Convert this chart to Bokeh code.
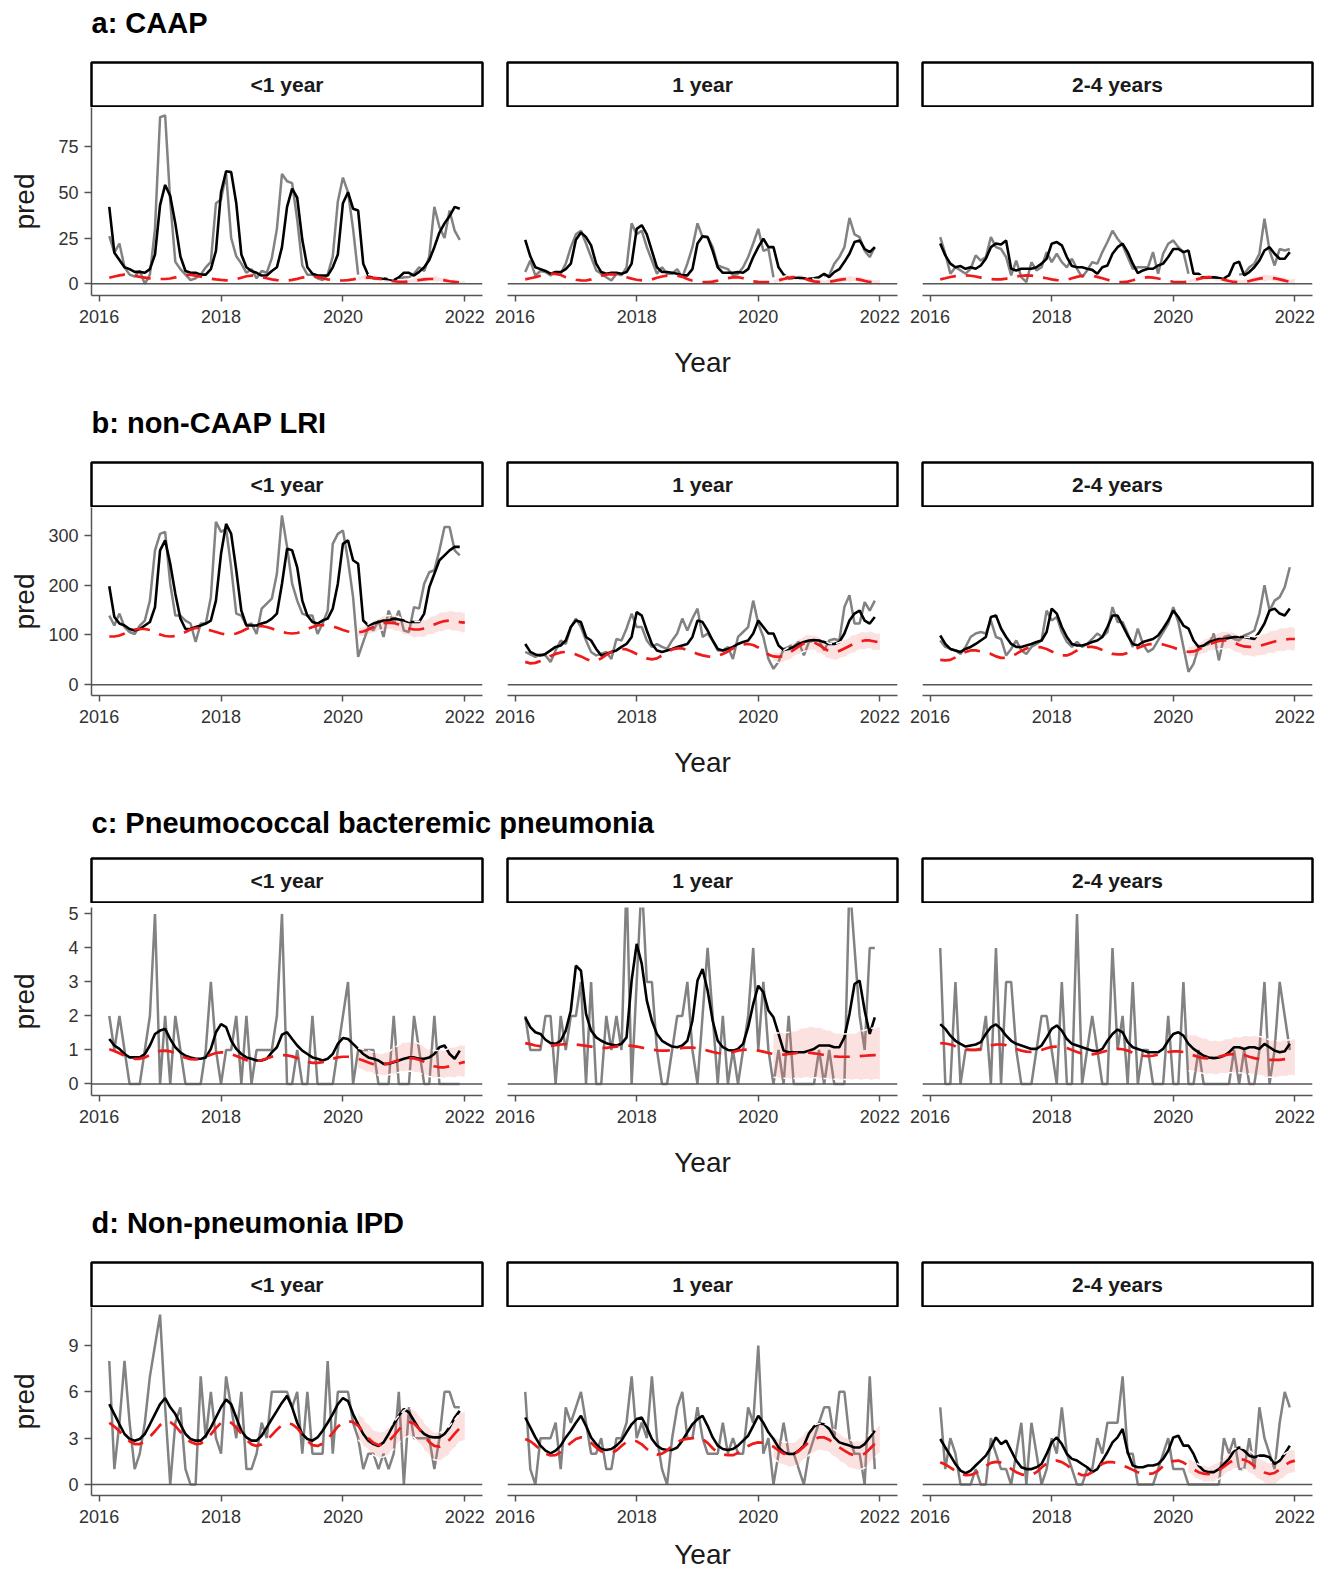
from bokeh.plotting import figure
from bokeh.models import Range1d, Label, Span, FixedTicker
from bokeh.layouts import column, row
from bokeh.embed import file_html
from bokeh.resources import INLINE

NAN = float("nan")
FONT = "Liberation Sans"

# monthly time axis: Mar 2016 ... Jan 2022 (decimal years)
MONTHS = [2016 + (2 + i) / 12 for i in range(71)]
RIB_START = 49  # Apr 2020

ROW_TITLES = ["a: CAAP", "b: non-CAAP LRI", "c: Pneumococcal bacteremic pneumonia", "d: Non-pneumonia IPD"]
AGE_GROUPS = ["<1 year", "1 year", "2-4 years"]
X_TICKS = [2016, 2018, 2020, 2022]
Y_TICKS = [[0, 25, 50, 75], [0, 100, 200, 300], [0, 1, 2, 3, 4, 5], [0, 3, 6, 9]]
Y_RANGES = [(-6.4, 96.3), (-21.5, 356), (-0.34, 5.19), (-0.71, 11.46)]

# ---------------- a: CAAP ----------------
caap_lt1_obs = [26, 17, 22, 9, 5, 4, 7, 0, 5, 30,
                91, 92, 45, 12, 8, 5, 2, 3, 5, 9, 12, 44,
                46, 60, 25, 15, 11, 6, 8, 3, 7, 6, 14, 30,
                60, 56, 55, 35, 10, 5, 5, 3, 2, 5, 15, 45,
                58, 50, 30, 5, NAN, NAN, NAN, NAN, NAN, NAN, NAN, 2.7,
                3.6, 3.6, 5.5, 9, 7, 15, 42, 31, 25, 40, 29, 24]
caap_lt1_fit = [42, 17, 13, 9, 8, 6.5, 6.5, 6, 8, 16,
                43, 54, 48, 33, 15, 7, 6, 6, 5, 5, 8, 18,
                50, 61.5, 61, 44, 16, 9, 7, 6, 4.5, 4.5, 7, 9,
                20, 42, 52, 47, 24, 9, 5.5, 4.5, 4.5, 4.5, 9, 16,
                44, 50, 41, 40, 11, 4.5, 3, 3, 2.8, 2.5, 2, 3.5,
                6, 6, 4.5, 6.5, 9, 13, 20, 28, 33, 37, 42, 41]
caap_lt1_cf = [3.3, 4.0, 4.6, 5.0, 4.8, 4.3, 3.8, 3.4, 3.0, 2.8,
               2.6, 2.6, 2.9, 3.5, 4.2, 4.8, 4.9, 4.5, 3.9, 3.3, 2.8, 2.4,
               2.1, 1.9, 2.0, 2.5, 3.3, 4.1, 4.5, 4.3, 3.7, 3.0, 2.4, 2.0,
               1.8, 1.8, 2.1, 2.7, 3.4, 3.9, 4.0, 3.6, 3.0, 2.4, 2.0, 1.8,
               1.8, 2.0, 2.4, 2.9, 3.3, 3.4, 3.2, 2.8, 2.3, 1.8, 1.4, 1.1,
               1.0, 1.2, 1.6, 2.0, 2.4, 2.6, 2.6, 2.3, 1.9, 1.4, 1.0, 0.7, 0.5]
caap_lt1_lo = [1.6, 1.9, 2.0, 1.8, 1.5, 1.1, 0.7, 0.4, 0.2, 0.1, 0.2, 0.5, 0.8, 1.1, 1.2, 1.2, 1.0, 0.7, 0.3, 0.1, -0.1, -0.3]
caap_lt1_hi = [4.3, 4.8, 5.0, 4.8, 4.3, 3.7, 3.1, 2.6, 2.3, 2.2, 2.5, 3.0, 3.5, 3.9, 4.2, 4.2, 3.8, 3.3, 2.7, 2.2, 1.8, 1.5]

caap_1y_obs = [6.4, 12.7, 4.5, 7, 6.4, 4.6, 6.4, 5.5, 11, 20,
               27, 29, 22, 14.6, 7.3, 5.5, 3.6, 1.8, 5.5, 4.6, 9, 33,
               27, 29, 20, 12.7, 5.5, 9, 5.5, 5.5, 8, 3.6, 11, 20,
               33, 25.5, 25.5, 20, 10, 9, 8, 4.6, 5.5, 9, 14.6, 22,
               30, 18, 19, 3.6, NAN, NAN, NAN, NAN, NAN, NAN, NAN, NAN,
               NAN, 4.5, 4.6, 11, 14.6, 20, 36, 27, 25.5, 18, 14.6, 20]
caap_1y_fit = [24, 15, 9, 8, 7, 5.5, 6.4, 6.4, 8, 11,
               24, 28, 25.5, 21, 11, 6.4, 5.5, 6, 6, 5.5, 6.4, 11,
               30, 32, 27, 18, 9, 6.4, 6.4, 6, 5.5, 4.6, 4.6, 8,
               22, 26, 25.5, 18, 9, 6, 6, 6, 6.4, 6, 8, 14.6,
               20, 24.6, 20, 20, 9, 5, 3, 3.2, 3.3, 3, 2.7, 3,
               3.6, 5.5, 3.6, 6.4, 8, 12, 16.4, 22.8, 23.7, 19, 17.3, 20]
caap_1y_cf = [2.4, 3.0, 3.6, 4.4, 5.1, 5.5, 5.4, 4.8, 3.6, 2.8, 2.2, 1.9,
              1.8, 2.4, 3.4, 4.4, 5.0, 5.2, 5.0, 4.4, 3.6, 2.8, 2.2, 1.9,
              1.8, 2.4, 3.3, 4.0, 4.5, 4.7, 4.5, 3.8, 2.6, 1.7, 1.1, 0.9,
              0.9, 1.2, 1.7, 2.4, 3.1, 3.5, 3.6, 3.0, 2.0, 1.3, 1.0, 0.9,
              0.9, 1.2, 1.9, 2.6, 3.2, 3.6, 3.5, 3.0, 2.0, 1.3, 1.0, 0.9,
              1.1, 1.6, 2.1, 2.5, 2.7, 2.7, 2.3, 1.6, 1.0, 0.8, 0.7]
caap_1y_lo = [0.0, 0.6, 1.2, 1.7, 2.1, 2.0, 1.5, 0.6, 0.0, -0.3, -0.4, -0.3, 0.2, 0.6, 0.9, 1.1, 1.1, 0.7, 0.1, -0.5, -0.7, -0.8]
caap_1y_hi = [2.4, 3.2, 4.0, 4.7, 5.1, 5.0, 4.5, 3.4, 2.6, 2.3, 2.2, 2.5, 3.0, 3.6, 4.1, 4.3, 4.3, 3.9, 3.1, 2.5, 2.3, 2.2]

caap_2to4_obs = [25.5, 16.4, 5.5, 9, 7.3, 5.5, 8.2, 15.5, 12.7, 14.6,
                 25.5, 20, 19, 14.6, 4.6, 12.7, 3.6, 0.9, 11.8, 7.3, 9, 17.3,
                 11.8, 16.4, 11.8, 9, 13.7, 8.2, 3.6, 7.3, 11.8, 11, 17.3, 22.8,
                 29, 24.6, 21, 14.6, 8.2, 9, 9, 9, 17.3, 5.5, 16.4, 21.9,
                 23.7, 20, 17.3, 5.5, NAN, NAN, NAN, NAN, NAN, NAN, NAN, NAN,
                 NAN, 5, 5.5, 9, 11, 16.4, 35.5, 18.2, 10, 19, 18.2, 19]
caap_2to4_fit = [22, 15.5, 11, 9, 9.7, 8.2, 9, 8.2, 10, 13.7,
                 20, 22, 21.5, 23.7, 8.2, 7.3, 8.2, 8.2, 8.2, 9, 11, 13.7,
                 21.9, 22.8, 21, 14.6, 9.7, 9, 9, 8.2, 7.6, 5.5, 9, 10,
                 16.4, 20, 21.9, 17.3, 11, 5.8, 7.3, 8.2, 8.2, 10, 11, 14.6,
                 19, 19, 17.3, 18.2, 5.5, 5.5, 3.3, 3.5, 3.5, 3.3, 3, 4.6,
                 11, 12, 4.6, 6.4, 9, 12.7, 18.2, 20, 16.4, 13.7, 13.7, 17.3]
caap_2to4_cf = [2.4, 3.0, 3.7, 4.2, 4.5, 4.6, 4.4, 4.0, 3.4, 3.0, 2.6, 2.4,
                2.4, 2.8, 3.4, 4.0, 4.4, 4.6, 4.5, 4.1, 3.5, 3.0, 2.4, 2.0,
                1.8, 2.2, 3.0, 3.8, 4.4, 4.6, 4.4, 3.8, 3.0, 2.2, 1.4, 1.0,
                0.9, 1.2, 1.9, 2.7, 3.3, 3.6, 3.4, 2.9, 2.3, 1.6, 1.1, 0.9,
                0.9, 1.3, 2.0, 2.7, 3.3, 3.6, 3.4, 2.9, 2.2, 1.5, 1.0, 0.9,
                1.0, 1.5, 2.2, 2.8, 3.2, 3.3, 3.0, 2.4, 1.7, 1.1, 0.9]
caap_2to4_lo = [0.1, 0.7, 1.3, 1.8, 2.1, 1.9, 1.4, 0.7, 0.0, -0.4, -0.5, -0.5, 0.0, 0.6, 1.1, 1.4, 1.5, 1.2, 0.6, -0.1, -0.7, -0.9]
caap_2to4_hi = [2.5, 3.3, 4.1, 4.8, 5.1, 4.9, 4.4, 3.7, 3.0, 2.5, 2.4, 2.5, 3.0, 3.8, 4.5, 5.0, 5.1, 4.8, 4.2, 3.5, 2.9, 2.7]

# ---------------- b: non-CAAP LRI ----------------
lri_lt1_obs = [139, 119, 143, 116, 106, 102, 119, 129, 169, 270,
               303, 307, 203, 139, 139, 129, 123, 86, 123, 123, 176, 327,
               307, 313, 236, 143, 139, 119, 123, 102, 153, 163, 173, 223,
               340, 277, 203, 169, 143, 139, 139, 102, 123, 149, 283, 303,
               310, 250, 176, 56, 86, 116, 109, 129, 96, 149, 123, 149,
               109, 106, 156, 153, 203, 226, 230, 270, 317, 317, 270, 260]
lri_lt1_fit = [198, 136, 123, 119, 112, 109, 112, 119, 126, 156,
               270, 290, 243, 183, 133, 112, 112, 116, 119, 123, 129, 169,
               263, 323, 303, 230, 149, 119, 119, 119, 123, 126, 133, 143,
               203, 273, 270, 236, 169, 139, 126, 123, 129, 133, 153, 203,
               283, 290, 250, 243, 129, 119, 123, 126, 129, 129, 133, 131,
               129, 126, 126, 126, 143, 196, 223, 250, 260, 270, 277, 277]
lri_lt1_cf = [97, 97, 99, 103, 108, 111, 112, 112, 110, 106,
              101, 98, 97, 98, 101, 106, 111, 114, 114, 112, 109, 106,
              103, 101, 101, 103, 107, 112, 116, 118, 118, 116, 113, 109,
              106, 104, 103, 104, 107, 112, 116, 119, 120, 119, 117, 114,
              110, 107, 105, 105, 107, 111, 116, 121, 124, 125, 124, 121,
              117, 113, 111, 111, 113, 117, 121, 125, 128, 129, 128, 126, 125]
lri_lt1_lo = [96, 97, 100, 104, 108, 111, 111, 110, 106, 102, 98, 95, 95, 96, 100, 103, 106, 109, 110, 108, 106, 105]
lri_lt1_hi = [114, 117, 122, 128, 134, 138, 139, 139, 136, 132, 128, 127, 127, 130, 135, 139, 144, 147, 148, 148, 146, 145]

lri_1y_obs = [66, 61, 56, 61, 59, 46, 69, 89, 82, 116,
              133, 116, 89, 66, 59, 62, 66, 52, 92, 89, 113, 143,
              116, 116, 89, 76, 82, 76, 72, 89, 103, 133, 109, 133,
              153, 96, 103, 89, 69, 69, 76, 52, 96, 106, 116, 169,
              123, 96, 52, 32, 46, 72, 76, 82, 86, 59, 86, 89,
              89, 69, 89, 92, 89, 156, 180, 123, 123, 166, 149, 169]
lri_1y_fit = [82, 66, 61, 59, 62, 69, 76, 79, 89, 116,
              129, 126, 96, 89, 72, 59, 62, 66, 69, 76, 82, 96,
              146, 139, 109, 82, 69, 66, 69, 72, 76, 79, 82, 96,
              129, 126, 109, 89, 72, 69, 72, 76, 82, 86, 89, 103,
              129, 116, 103, 103, 79, 70, 72, 76, 82, 86, 89, 90,
              89, 86, 82, 82, 86, 103, 129, 143, 149, 129, 123, 136]
lri_1y_cf = [46, 43, 44, 48, 53, 58, 62, 65, 66, 64,
             61, 57, 52, 48, 48, 53, 60, 66, 70, 72, 71, 67,
             62, 57, 53, 51, 53, 59, 66, 71, 73, 73, 70, 66,
             62, 59, 57, 56, 58, 62, 67, 73, 78, 81, 82, 80,
             75, 68, 61, 57, 56, 58, 63, 70, 77, 83, 86, 85,
             80, 73, 67, 66, 68, 73, 78, 83, 87, 89, 89, 87, 85]
lri_1y_lo = [47, 45, 46, 50, 56, 62, 67, 70, 69, 64, 58, 52, 50, 52, 56, 61, 66, 70, 72, 72, 70, 68]
lri_1y_hi = [66, 66, 69, 75, 83, 91, 98, 101, 100, 96, 89, 83, 82, 85, 90, 96, 101, 105, 107, 107, 105, 103]

lri_2to4_obs = [89, 76, 72, 69, 62, 76, 96, 103, 106, 103,
                129, 96, 92, 59, 72, 89, 69, 62, 76, 82, 89, 149,
                129, 136, 106, 86, 76, 86, 76, 82, 92, 103, 96, 106,
                156, 126, 126, 103, 76, 113, 82, 66, 72, 89, 106, 123,
                156, 126, 76, 26, 42, 76, 79, 82, 103, 49, 96, 99,
                92, 89, 99, 103, 109, 143, 200, 149, 169, 176, 196, 236]
lri_2to4_fit = [99, 82, 72, 69, 66, 72, 76, 82, 89, 96,
                136, 139, 113, 96, 82, 76, 76, 79, 82, 86, 89, 106,
                153, 143, 116, 96, 82, 79, 79, 82, 86, 89, 96, 116,
                139, 139, 119, 99, 82, 79, 86, 89, 92, 99, 113, 129,
                149, 136, 119, 113, 89, 76, 79, 86, 89, 92, 92, 94,
                96, 96, 96, 94, 92, 106, 123, 149, 153, 143, 139, 153]
lri_2to4_cf = [50, 49, 50, 55, 61, 66, 69, 69, 67, 65,
               62, 57, 54, 54, 57, 62, 68, 73, 76, 76, 75, 72,
               67, 62, 59, 59, 63, 69, 74, 76, 76, 74, 70, 66,
               62, 61, 61, 64, 69, 74, 78, 81, 82, 82, 81, 78,
               75, 71, 68, 66, 67, 71, 76, 81, 85, 88, 89, 89,
               85, 80, 77, 76, 76, 78, 81, 84, 87, 89, 91, 92, 92]
lri_2to4_lo = [56, 56, 59, 63, 67, 70, 72, 73, 72, 68, 63, 59, 57, 57, 58, 60, 63, 65, 67, 68, 69, 69]
lri_2to4_hi = [77, 79, 84, 90, 96, 101, 105, 107, 107, 104, 99, 96, 95, 96, 99, 103, 107, 110, 113, 115, 116, 116]

# ---------------- c: Pneumococcal bacteremic pneumonia ----------------
pbp_lt1_obs = [2, 1, 2, 1, 0, 0, 0, 1, 2, 5,
               0, 2, 0, 2, 1, 0, 0, 0, 0, 1, 3, 1,
               0, 1, 1, 2, 0, 2, 0, 1, 1, 1, 1, 2,
               5, 0, 0, 1, 0, 0, 2, 0, 0, 0, 0, 1,
               2, 3, 0, 1, 1, 1, 1, 0, 0, 0, 2, 0,
               0, 0, 2, 1, 0, 0, 2, 0, 0, 0, 0, 0]
pbp_lt1_fit = [1.32, 1.13, 1.03, 0.88, 0.78, 0.78, 0.78, 0.88, 1.13, 1.47,
               1.57, 1.62, 1.32, 1.08, 0.93, 0.83, 0.78, 0.74, 0.74, 0.78, 1.03, 1.52,
               1.76, 1.67, 1.27, 1.03, 0.88, 0.78, 0.74, 0.69, 0.69, 0.74, 0.93, 1.08,
               1.45, 1.52, 1.32, 1.13, 0.98, 0.88, 0.78, 0.74, 0.69, 0.74, 0.88, 1.18,
               1.35, 1.32, 1.18, 1.03, 0.88, 0.78, 0.74, 0.69, 0.59, 0.59, 0.64, 0.69,
               0.74, 0.78, 0.78, 0.74, 0.74, 0.78, 0.88, 1.08, 1.13, 0.88, 0.74, 0.98]
pbp_lt1_cf = [1.02, 0.97, 0.9, 0.83, 0.77, 0.74, 0.74, 0.78, 0.85, 0.92,
              0.97, 0.98, 0.96, 0.9, 0.83, 0.77, 0.73, 0.72, 0.74, 0.8, 0.86, 0.91,
              0.93, 0.92, 0.88, 0.82, 0.76, 0.7, 0.68, 0.68, 0.7, 0.75, 0.8, 0.84,
              0.85, 0.84, 0.81, 0.76, 0.7, 0.65, 0.62, 0.62, 0.64, 0.69, 0.74, 0.78,
              0.8, 0.8, 0.78, 0.74, 0.69, 0.63, 0.58, 0.56, 0.57, 0.6, 0.65, 0.7,
              0.74, 0.76, 0.75, 0.71, 0.65, 0.58, 0.52, 0.49, 0.49, 0.52, 0.56, 0.61, 0.65]
pbp_lt1_lo = [0.45, 0.4, 0.35, 0.3, 0.26, 0.25, 0.27, 0.3, 0.34, 0.37, 0.38, 0.36, 0.32, 0.27, 0.22, 0.19, 0.18, 0.18, 0.19, 0.2, 0.21, 0.22]
pbp_lt1_hi = [1.05, 1.02, 0.98, 0.93, 0.9, 0.9, 0.95, 1.05, 1.15, 1.22, 1.25, 1.24, 1.18, 1.1, 1.02, 0.98, 0.98, 1.0, 1.05, 1.1, 1.13, 1.15]

pbp_1y_obs = [2, 1, 1, 1, 2, 2, 0, 2, 1, 2,
              2, 3, 0, 3, 0, 0, 2, 1, 2, 1, 6, 0,
              3, 6, 3, 3, 1, 0, 0, 1, 2, 2, 3, 1,
              0, 2, 4, 2, 0, 2, 0, 1, 0, 1, 2, 4,
              1, 3, 1, 0, 1, 0, 2, 0, 0, 0, 0, 0,
              1, 0, 1, 0, 0, 0, 6, 4, 2, 1, 4, 4]
pbp_1y_fit = [1.96, 1.67, 1.52, 1.47, 1.3, 1.2, 1.18, 1.27, 1.57, 2.16,
              3.48, 3.33, 2.06, 1.57, 1.37, 1.27, 1.2, 1.16, 1.13, 1.18, 1.37, 3.04,
              4.12, 3.53, 2.45, 1.86, 1.47, 1.27, 1.18, 1.1, 1.08, 1.13, 1.27, 1.86,
              3.04, 3.38, 2.75, 1.86, 1.27, 1.08, 1.0, 0.98, 1.03, 1.18, 1.67, 2.35,
              2.89, 2.7, 2.16, 1.96, 1.47, 0.98, 0.93, 0.93, 0.93, 0.93, 0.98, 1.03,
              1.13, 1.13, 1.13, 1.08, 1.08, 1.37, 2.06, 2.94, 3.04, 2.16, 1.47, 1.96]
pbp_1y_cf = [1.2, 1.17, 1.13, 1.11, 1.1, 1.12, 1.14, 1.16, 1.17, 1.17,
             1.16, 1.14, 1.12, 1.1, 1.08, 1.06, 1.06, 1.08, 1.1, 1.12, 1.13, 1.12,
             1.1, 1.07, 1.04, 1.01, 0.99, 0.98, 0.98, 1.0, 1.03, 1.06, 1.07, 1.07,
             1.05, 1.02, 0.98, 0.94, 0.91, 0.9, 0.91, 0.94, 0.98, 1.0, 1.01, 1.0,
             0.98, 0.95, 0.91, 0.88, 0.86, 0.86, 0.88, 0.9, 0.92, 0.93, 0.92, 0.9,
             0.88, 0.85, 0.83, 0.81, 0.8, 0.8, 0.8, 0.81, 0.82, 0.83, 0.84, 0.85, 0.86]
pbp_1y_lo = [0.2, 0.18, 0.17, 0.16, 0.16, 0.17, 0.18, 0.18, 0.18, 0.17, 0.16, 0.15, 0.14, 0.13, 0.13, 0.13, 0.12, 0.12, 0.12, 0.12, 0.12, 0.12]
pbp_1y_hi = [1.5, 1.5, 1.5, 1.52, 1.56, 1.6, 1.65, 1.68, 1.68, 1.66, 1.62, 1.57, 1.52, 1.48, 1.47, 1.48, 1.5, 1.54, 1.58, 1.62, 1.65, 1.67]

pbp_2to4_obs = [4, 0, 0, 3, 0, 1, 1, 1, 1, 2,
                0, 4, 0, 3, 3, 1, 0, 0, 0, 1, 2, 2,
                1, 0, 3, 0, 0, 5, 0, 1, 2, 1, 0, 0,
                4, 1, 2, 0, 3, 0, 1, 1, 0, 0, 0, 2,
                0, 0, 3, 0, 0, 1, 0, 0, 0, 0, 0, 0,
                1, 0, 1, 0, 0, 1, 3, 0, 1, 3, 2, 1]
pbp_2to4_fit = [1.76, 1.62, 1.42, 1.27, 1.18, 1.1, 1.13, 1.16, 1.23, 1.47,
                1.67, 1.75, 1.62, 1.42, 1.27, 1.18, 1.13, 1.08, 1.03, 1.03, 1.13, 1.37,
                1.62, 1.72, 1.57, 1.32, 1.18, 1.13, 1.08, 1.03, 0.98, 0.96, 1.03, 1.27,
                1.47, 1.6, 1.52, 1.23, 1.08, 1.03, 0.98, 0.93, 0.93, 0.93, 1.03, 1.27,
                1.47, 1.52, 1.42, 1.18, 1.03, 0.93, 0.83, 0.78, 0.76, 0.78, 0.83, 0.93,
                1.08, 1.08, 1.03, 1.08, 1.08, 1.03, 1.18, 1.08, 0.98, 0.93, 0.96, 1.18]
pbp_2to4_cf = [1.2, 1.19, 1.16, 1.11, 1.06, 1.02, 1.0, 1.0, 1.03, 1.08,
               1.13, 1.16, 1.16, 1.14, 1.09, 1.03, 0.98, 0.95, 0.94, 0.96, 1.0, 1.05,
               1.09, 1.1, 1.09, 1.06, 1.0, 0.94, 0.89, 0.87, 0.87, 0.9, 0.94, 0.98,
               1.02, 1.03, 1.02, 0.98, 0.92, 0.87, 0.83, 0.82, 0.83, 0.86, 0.9, 0.94,
               0.96, 0.96, 0.94, 0.9, 0.84, 0.79, 0.76, 0.75, 0.76, 0.8, 0.84, 0.87,
               0.88, 0.88, 0.85, 0.8, 0.76, 0.73, 0.72, 0.71, 0.71, 0.71, 0.73, 0.75, 0.78]
pbp_2to4_lo = [0.39, 0.37, 0.34, 0.31, 0.29, 0.28, 0.29, 0.31, 0.33, 0.34, 0.33, 0.31, 0.29, 0.27, 0.25, 0.22, 0.2, 0.2, 0.21, 0.23, 0.24, 0.25]
pbp_2to4_hi = [1.47, 1.45, 1.4, 1.35, 1.3, 1.27, 1.27, 1.3, 1.34, 1.37, 1.39, 1.41, 1.42, 1.42, 1.4, 1.35, 1.3, 1.27, 1.27, 1.28, 1.3, 1.32]

# ---------------- d: Non-pneumonia IPD ----------------
ipd_lt1_obs = [8, 1, 4, 8, 4, 1, 2, 4, 7, 9,
               11, 5, 0, 4, 5, 1, 0, 0, 7, 3, 6, 3,
               2, 7, 5, 3, 6, 1, 1, 2, 4, 3, 6, 6,
               6, 6, 5, 6, 2, 6, 2, 2, 2, 8, 2, 6,
               6, 6, 4, 3, 1, 2, 2, 1, 2, 1, 2, 6,
               0, 5, 3, 3, 3, 3, 1, 3, 6, 6, 5, 5]
ipd_lt1_fit = [5.2, 4.56, 3.9, 3.27, 2.95, 2.84, 2.95, 3.27, 3.9, 4.56,
               5.2, 5.6, 5.0, 4.56, 3.9, 3.27, 2.95, 2.84, 2.84, 3.16, 3.7, 4.34,
               5.0, 5.5, 5.2, 4.34, 3.48, 3.05, 2.84, 2.84, 3.16, 3.7, 4.24, 4.77,
               5.3, 5.74, 5.0, 4.0, 3.27, 2.95, 2.84, 3.05, 3.48, 4.0, 4.56, 5.2,
               5.6, 5.4, 4.56, 3.9, 3.27, 2.84, 2.62, 2.5, 2.73, 3.27, 3.9, 4.45,
               4.88, 4.67, 4.13, 3.6, 3.27, 3.1, 3.05, 3.05, 3.27, 3.7, 4.34, 4.77]
ipd_lt1_cf = [4.0, 3.75, 3.45, 3.1, 2.8, 2.62, 2.62, 2.8, 3.1, 3.45,
              3.85, 4.1, 4.05, 3.8, 3.4, 3.05, 2.75, 2.62, 2.65, 2.9, 3.25, 3.65,
              4.0, 4.13, 4.0, 3.7, 3.3, 2.9, 2.6, 2.5, 2.6, 2.85, 3.2, 3.55,
              3.85, 3.95, 3.9, 3.65, 3.25, 2.85, 2.55, 2.5, 2.65, 2.95, 3.35, 3.75,
              4.0, 4.1, 4.05, 3.8, 3.4, 3.0, 2.7, 2.55, 2.6, 2.8, 3.15, 3.55,
              3.9, 4.05, 3.95, 3.6, 3.15, 2.75, 2.5, 2.45, 2.6, 2.9, 3.3, 3.65, 3.85]
ipd_lt1_lo = [2.9, 2.55, 2.2, 1.9, 1.75, 1.78, 1.95, 2.3, 2.7, 3.0, 3.15, 3.05, 2.7, 2.25, 1.85, 1.6, 1.55, 1.7, 2.0, 2.4, 2.75, 2.9]
ipd_lt1_hi = [4.7, 4.3, 3.9, 3.55, 3.4, 3.45, 3.7, 4.05, 4.45, 4.8, 4.95, 4.85, 4.5, 4.05, 3.65, 3.4, 3.35, 3.5, 3.8, 4.2, 4.6, 4.8]

ipd_1y_obs = [6, 1, 0, 3, 3, 3, 4, 1, 5, 4,
              5, 6, 4, 2, 2, 3, 1, 1, 3, 3, 4, 7,
              3, 4, 3, 7, 3, 1, 0, 3, 5, 6, 3, 3,
              5, 3, 2, 2, 2, 4, 2, 3, 2, 2, 5, 4,
              9, 2, 3, 0, 2, 4, 2, 2, 1, 0, 2, 3,
              4, 5, 5, 3, 6, 6, 3, 2, 2, 0, 7, 1]
ipd_1y_fit = [4.34, 3.7, 3.05, 2.52, 2.19, 2.02, 2.19, 2.52, 3.05, 3.48,
              4.0, 4.45, 3.8, 3.05, 2.62, 2.3, 2.24, 2.3, 2.52, 2.84, 3.38, 3.9,
              4.24, 4.34, 3.7, 2.95, 2.52, 2.3, 2.24, 2.24, 2.4, 2.84, 3.38, 3.9,
              4.24, 4.45, 3.8, 3.05, 2.52, 2.3, 2.24, 2.3, 2.52, 2.84, 3.16, 3.8,
              4.45, 4.0, 3.38, 2.95, 2.4, 2.09, 1.98, 1.98, 2.19, 2.52, 3.3, 3.75,
              3.95, 3.9, 3.6, 3.05, 2.73, 2.62, 2.52, 2.4, 2.4, 2.62, 3.05, 3.48]
ipd_1y_cf = [2.95, 2.8, 2.55, 2.25, 2.0, 1.88, 1.9, 2.1, 2.4, 2.7,
             2.95, 3.05, 2.95, 2.7, 2.4, 2.15, 2.02, 2.05, 2.2, 2.5, 2.75, 2.85,
             2.8, 2.6, 2.3, 2.05, 1.94, 2.0, 2.2, 2.5, 2.75, 2.9, 2.95, 3.0,
             3.05, 2.95, 2.7, 2.35, 2.05, 1.95, 1.9, 1.9, 2.05, 2.3, 2.5, 2.65,
             2.73, 2.7, 2.62, 2.45, 2.2, 2.0, 1.95, 1.98, 2.15, 2.45, 2.75, 2.95,
             3.05, 3.05, 2.9, 2.65, 2.4, 2.2, 2.0, 1.88, 1.87, 2.0, 2.3, 2.65, 2.95]
ipd_1y_lo = [1.7, 1.45, 1.25, 1.15, 1.15, 1.3, 1.6, 1.9, 2.1, 2.2, 2.2, 2.05, 1.8, 1.55, 1.3, 1.1, 0.97, 0.95, 1.08, 1.38, 1.75, 2.05]
ipd_1y_hi = [3.2, 2.95, 2.75, 2.7, 2.75, 2.95, 3.3, 3.6, 3.85, 3.95, 3.95, 3.8, 3.55, 3.3, 3.1, 2.9, 2.8, 2.8, 2.95, 3.25, 3.6, 3.9]

ipd_2to4_obs = [5, 1, 3, 2, 0, 0, 0, 1, 0, 0,
                3, 2, 1, 1, 0, 2, 4, 0, 4, 2, 0, 1,
                3, 2, 5, 2, 1, 0, 0, 1, 1, 3, 2, 4,
                4, 4, 7, 2, 2, 0, 0, 0, 0, 1, 2, 3,
                1, 1, 1, 0, 0, 0, 0, 0, 0, 0, 3, 2,
                3, 1, 1, 3, 1, 5, 3, 2, 1, 4, 6, 5]
ipd_2to4_fit = [2.95, 2.4, 1.87, 1.33, 0.9, 0.73, 0.9, 1.23, 1.55, 1.87,
                2.4, 3.05, 2.62, 2.84, 2.19, 1.55, 1.12, 1.0, 1.0, 1.12, 1.33, 1.98,
                2.73, 3.05, 2.62, 1.98, 1.66, 1.55, 1.33, 1.12, 0.8, 1.0, 1.55, 2.09,
                2.73, 3.05, 3.6, 2.09, 1.23, 1.12, 1.12, 1.23, 1.23, 1.33, 1.66, 2.19,
                3.05, 3.16, 2.52, 2.52, 1.98, 1.23, 0.9, 0.8, 0.8, 1.0, 1.33, 1.66,
                2.19, 2.4, 2.19, 1.87, 1.76, 1.87, 1.87, 1.76, 1.33, 1.55, 1.98, 2.52]
ipd_2to4_cf = [1.44, 1.3, 1.1, 0.88, 0.7, 0.6, 0.62, 0.75, 0.95, 1.2,
               1.4, 1.47, 1.42, 1.25, 1.02, 0.8, 0.66, 0.6, 0.62, 0.8, 1.1, 1.35,
               1.5, 1.55, 1.45, 1.25, 1.0, 0.75, 0.6, 0.62, 0.8, 1.1, 1.35, 1.45,
               1.45, 1.38, 1.25, 1.1, 0.95, 0.8, 0.7, 0.68, 0.72, 0.9, 1.2, 1.42,
               1.52, 1.55, 1.42, 1.22, 0.98, 0.8, 0.7, 0.68, 0.75, 0.92, 1.15, 1.4,
               1.6, 1.66, 1.6, 1.45, 1.2, 0.98, 0.78, 0.68, 0.75, 0.98, 1.25, 1.45, 1.55]
ipd_2to4_lo = [0.75, 0.5, 0.3, 0.2, 0.15, 0.2, 0.35, 0.6, 0.85, 1.0, 1.05, 0.98, 0.8, 0.55, 0.32, 0.12, 0.0, 0.05, 0.25, 0.52, 0.72, 0.82]
ipd_2to4_hi = [1.75, 1.5, 1.3, 1.2, 1.2, 1.3, 1.5, 1.75, 2.05, 2.3, 2.4, 2.35, 2.2, 1.95, 1.7, 1.5, 1.4, 1.48, 1.72, 2.0, 2.2, 2.3]

PANELS = [
    [(caap_lt1_obs, caap_lt1_fit, caap_lt1_cf, caap_lt1_lo, caap_lt1_hi),
     (caap_1y_obs, caap_1y_fit, caap_1y_cf, caap_1y_lo, caap_1y_hi),
     (caap_2to4_obs, caap_2to4_fit, caap_2to4_cf, caap_2to4_lo, caap_2to4_hi)],
    [(lri_lt1_obs, lri_lt1_fit, lri_lt1_cf, lri_lt1_lo, lri_lt1_hi),
     (lri_1y_obs, lri_1y_fit, lri_1y_cf, lri_1y_lo, lri_1y_hi),
     (lri_2to4_obs, lri_2to4_fit, lri_2to4_cf, lri_2to4_lo, lri_2to4_hi)],
    [(pbp_lt1_obs, pbp_lt1_fit, pbp_lt1_cf, pbp_lt1_lo, pbp_lt1_hi),
     (pbp_1y_obs, pbp_1y_fit, pbp_1y_cf, pbp_1y_lo, pbp_1y_hi),
     (pbp_2to4_obs, pbp_2to4_fit, pbp_2to4_cf, pbp_2to4_lo, pbp_2to4_hi)],
    [(ipd_lt1_obs, ipd_lt1_fit, ipd_lt1_cf, ipd_lt1_lo, ipd_lt1_hi),
     (ipd_1y_obs, ipd_1y_fit, ipd_1y_cf, ipd_1y_lo, ipd_1y_hi),
     (ipd_2to4_obs, ipd_2to4_fit, ipd_2to4_cf, ipd_2to4_lo, ipd_2to4_hi)],
]

# ---------------- layout geometry ----------------
PAGE_W = 1320
ROW_H = 400
STRIP_H = 47
FRAME_H = 188
# row c needs a little room above its frame for the "5" tick label
TITLE_H = [60, 60, 56, 60]
PLOT_TOP = [0, 0, 4, 0]
LAST_PLOT_H = 268
COL_W = [494, 415, 411]
COL_BL = [91, 13, 13]
COL_BR = [12, 12, 8]
PRED_STANDOFF = [15, 5, 25, 25]
YEAR_STANDOFF = [21, 21, 21, 13]
AXIS_COLOR = "#555555"
TEXT_COLOR = "#333333"


def blank_fig(width, height, **kw):
    f = figure(width=width, height=height, output_backend="svg", toolbar_location=None,
               x_axis_location=None, y_axis_location=None, **kw)
    for g in f.grid:
        g.visible = False
    f.background_fill_color = "white"
    f.border_fill_color = "white"
    return f


def make_title(text, h):
    t = blank_fig(PAGE_W, h, x_range=Range1d(0, PAGE_W), y_range=Range1d(0, h), min_border=0)
    t.outline_line_color = None
    t.add_layout(Label(x=91, y=h - 22, text=text, text_baseline="middle", text_align="left",
                       text_font=FONT, text_font_size="29px", text_font_style="bold", text_color="black"))
    return t


def make_strip(text, c):
    s = blank_fig(COL_W[c], STRIP_H, x_range=Range1d(0, 1), y_range=Range1d(0, 1),
                  min_border_left=COL_BL[c], min_border_right=COL_BR[c], min_border_top=2, min_border_bottom=1)
    s.outline_line_color = "black"
    s.outline_line_width = 2.5
    s.add_layout(Label(x=0.5, y=0.5, text=text, text_align="center", text_baseline="middle",
                       text_font=FONT, text_font_size="21px", text_font_style="bold", text_color="#1a1a1a"))
    return s


def make_panel(r, c, data):
    obs, fit, cf, lo, hi = data
    if r == 3:
        height = LAST_PLOT_H
    else:
        height = ROW_H - TITLE_H[r] - STRIP_H
    top = PLOT_TOP[r]
    bottom = height - FRAME_H - top
    p = figure(width=COL_W[c], height=height, output_backend="svg", toolbar_location=None,
               x_range=Range1d(2015.875, 2022.29), y_range=Range1d(*Y_RANGES[r]),
               y_axis_location="left" if c == 0 else None,
               min_border_left=COL_BL[c], min_border_right=COL_BR[c],
               min_border_top=top, min_border_bottom=bottom)
    p.outline_line_color = None
    for g in p.grid:
        g.visible = False
    p.background_fill_color = "white"
    p.border_fill_color = "white"

    xa = p.xaxis[0]
    xa.ticker = FixedTicker(ticks=X_TICKS)
    xa.minor_tick_line_color = None
    xa.major_tick_in = 0
    xa.major_tick_out = 6
    xa.axis_line_color = AXIS_COLOR
    xa.axis_line_width = 1.5
    xa.major_tick_line_color = AXIS_COLOR
    xa.major_tick_line_width = 1.5
    xa.major_label_text_font = FONT
    xa.major_label_text_font_size = "18px"
    xa.major_label_text_color = TEXT_COLOR
    xa.major_label_standoff = 8
    if c == 1:
        xa.axis_label = "Year"
        xa.axis_label_text_font = FONT
        xa.axis_label_text_font_size = "28px"
        xa.axis_label_text_font_style = "normal"
        xa.axis_label_text_color = "#1a1a1a"
        xa.axis_label_standoff = YEAR_STANDOFF[r]

    if c == 0:
        ya = p.yaxis[0]
        ya.ticker = FixedTicker(ticks=Y_TICKS[r])
        ya.minor_tick_line_color = None
        ya.major_tick_in = 0
        ya.major_tick_out = 7
        ya.axis_line_color = AXIS_COLOR
        ya.axis_line_width = 1.5
        ya.major_tick_line_color = AXIS_COLOR
        ya.major_tick_line_width = 1.5
        ya.major_label_text_font = FONT
        ya.major_label_text_font_size = "18px"
        ya.major_label_text_color = TEXT_COLOR
        ya.major_label_standoff = 6
        ya.axis_label = "pred"
        ya.axis_label_text_font = FONT
        ya.axis_label_text_font_size = "28px"
        ya.axis_label_text_font_style = "normal"
        ya.axis_label_text_color = "#1a1a1a"
        ya.axis_label_standoff = PRED_STANDOFF[r]

    p.add_layout(Span(location=0, dimension="width", line_color=AXIS_COLOR, line_width=1.5))

    x_obs = MONTHS[:len(obs)]
    x_fit = MONTHS[:len(fit)]
    x_cf = MONTHS[:len(cf)]
    x_rib = MONTHS[RIB_START:RIB_START + len(lo)]

    p.line(x_obs, obs, line_color="#828282", line_width=2.5)
    p.varea(x=x_rib, y1=lo, y2=hi, fill_color="#f07878", fill_alpha=0.22)
    p.line(x_fit, fit, line_color="black", line_width=2.6)
    p.line(x_rib, lo, line_color="white", line_width=1.5, line_dash="6 4")
    p.line(x_rib, hi, line_color="white", line_width=1.5, line_dash="6 4")
    p.line(x_cf, cf, line_color="#f01a1a", line_width=2.7, line_dash="16 10")
    return p


rows = []
for r in range(4):
    cols = []
    for c in range(3):
        strip = make_strip(AGE_GROUPS[c], c)
        panel = make_panel(r, c, PANELS[r][c])
        cols.append(column(strip, panel, spacing=0))
    rows.append(column(make_title(ROW_TITLES[r], TITLE_H[r]), row(*cols, spacing=0), spacing=0))

layout = column(*rows, spacing=0)

open("out.html", "w").write(file_html(layout, INLINE, title="plot"))
